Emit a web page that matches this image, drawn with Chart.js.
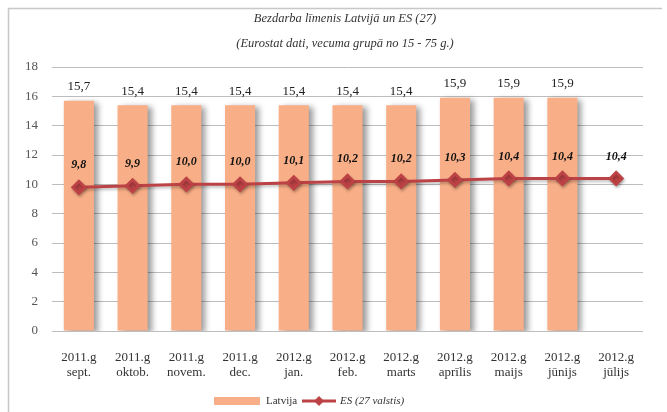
<!DOCTYPE html>
<html><head><meta charset="utf-8">
<script src="https://cdn.jsdelivr.net/npm/chart.js@4/dist/chart.umd.min.js"></script>
<style>html,body{margin:0;padding:0;background:#fff;}canvas{display:block;}</style>
</head><body>
<canvas id="c" width="667" height="412"></canvas>
<script>
const categories = [["2011.g","sept."],["2011.g","oktob."],["2011.g","novem."],["2011.g","dec."],["2012.g","jan."],["2012.g","feb."],["2012.g","marts"],["2012.g","aprīlis"],["2012.g","maijs"],["2012.g","jūnijs"],["2012.g","jūlijs"]];
const latvija = [15.7,15.4,15.4,15.4,15.4,15.4,15.4,15.9,15.9,15.9,null];
const es27 = [9.8,9.9,10.0,10.0,10.1,10.2,10.2,10.3,10.4,10.4,10.4];
const titleLines = ["Bezdarba līmenis Latvijā un ES (27)","(Eurostat dati, vecuma grupā no 15 - 75 g.)"];
const legendLabels = ["Latvija","ES (27 valstis)"];

const BAR = '#F8AE86', LINE = '#BC4245';
const SERIF = '"Liberation Serif", "DejaVu Serif", serif';
const fmt = v => v.toFixed(1).replace('.', ',');

const deco = {
  id: 'deco',
  beforeDraw(chart) {
    const ctx = chart.ctx;
    ctx.save();
    ctx.strokeStyle = '#c8c8c8'; ctx.lineWidth = 1.5;
    ctx.beginPath(); ctx.moveTo(8.5, 412); ctx.lineTo(8.5, 8.5); ctx.lineTo(662, 8.5); ctx.stroke();
    ctx.fillStyle = '#333'; ctx.font = 'italic 12.5px ' + SERIF; ctx.textAlign = 'center'; ctx.textBaseline = 'middle';
    ctx.fillText(titleLines[0], 345, 19);
    ctx.fillText(titleLines[1], 345, 44);
    ctx.restore();
  },
  beforeDatasetDraw(chart, args) {
    const ctx = chart.ctx;
    ctx.save();
    if (chart.data.datasets[args.index].type === 'bar') {
      ctx.shadowColor = 'rgba(0,0,0,0.4)'; ctx.shadowOffsetX = 4; ctx.shadowOffsetY = 2; ctx.shadowBlur = 6;
    } else {
      ctx.shadowColor = 'rgba(0,0,0,0.25)'; ctx.shadowOffsetX = 1; ctx.shadowOffsetY = 2; ctx.shadowBlur = 3;
    }
  },
  afterDatasetDraw(chart) { chart.ctx.restore(); },
  afterDraw(chart) {
    const ctx = chart.ctx;
    ctx.save();
    ctx.textAlign = 'center'; ctx.textBaseline = 'middle';
    const mLine = chart.getDatasetMeta(0), mBar = chart.getDatasetMeta(1);
    ctx.fillStyle = '#222'; ctx.font = '13px ' + SERIF;
    mBar.data.forEach((el, i) => { if (latvija[i] != null) ctx.fillText(fmt(latvija[i]), el.x, el.y - 14); });
    ctx.fillStyle = '#111'; ctx.font = 'italic bold 12px ' + SERIF;
    mLine.data.forEach((el, i) => { ctx.fillText(fmt(es27[i]), el.x, el.y - 22); });
    // legend
    const ly = 401;
    ctx.fillStyle = BAR; ctx.fillRect(214, ly - 4, 46, 8);
    ctx.fillStyle = '#333'; ctx.font = '11px ' + SERIF; ctx.textAlign = 'left';
    ctx.fillText(legendLabels[0], 266, ly);
    ctx.strokeStyle = LINE; ctx.lineWidth = 3; ctx.beginPath(); ctx.moveTo(302, ly); ctx.lineTo(336, ly); ctx.stroke();
    ctx.fillStyle = LINE; ctx.beginPath(); ctx.moveTo(319, ly - 5); ctx.lineTo(324, ly); ctx.lineTo(319, ly + 5); ctx.lineTo(314, ly); ctx.closePath(); ctx.fill();
    ctx.fillStyle = '#333'; ctx.font = 'italic 11px ' + SERIF;
    ctx.fillText(legendLabels[1], 340, ly);
    ctx.restore();
  }
};

new Chart(document.getElementById('c'), {
  data: {
    labels: categories,
    datasets: [
      { type: 'line', label: legendLabels[1], data: es27, borderColor: LINE, backgroundColor: LINE, borderWidth: 3,
        pointStyle: 'rectRot', pointRadius: 6, pointHoverRadius: 6, pointBackgroundColor: LINE, pointBorderColor: LINE, order: 0 },
      { type: 'bar', label: legendLabels[0], data: latvija, backgroundColor: BAR, barPercentage: 0.56, categoryPercentage: 1.0, order: 1 }
    ]
  },
  options: {
    responsive: false, animation: false,
    layout: { padding: { top: 67, right: 24, left: 0, bottom: 0 } },
    plugins: { legend: { display: false }, title: { display: false }, tooltip: { enabled: false } },
    scales: {
      x: {
        grid: { display: false, drawTicks: false }, border: { display: false },
        ticks: { font: { family: SERIF, size: 13, lineHeight: 1.15 }, color: '#333', padding: 19, maxRotation: 0 },
        afterFit: s => { s.height = 81; }
      },
      y: {
        min: 0, max: 18,
        grid: { color: '#bdbdbd', drawTicks: false, lineWidth: 1 }, border: { display: false },
        ticks: { stepSize: 2, font: { family: SERIF, size: 13 }, color: '#555', padding: 14 },
        afterFit: s => { s.width = 52; }
      }
    }
  },
  plugins: [deco]
});
</script>
</body></html>
